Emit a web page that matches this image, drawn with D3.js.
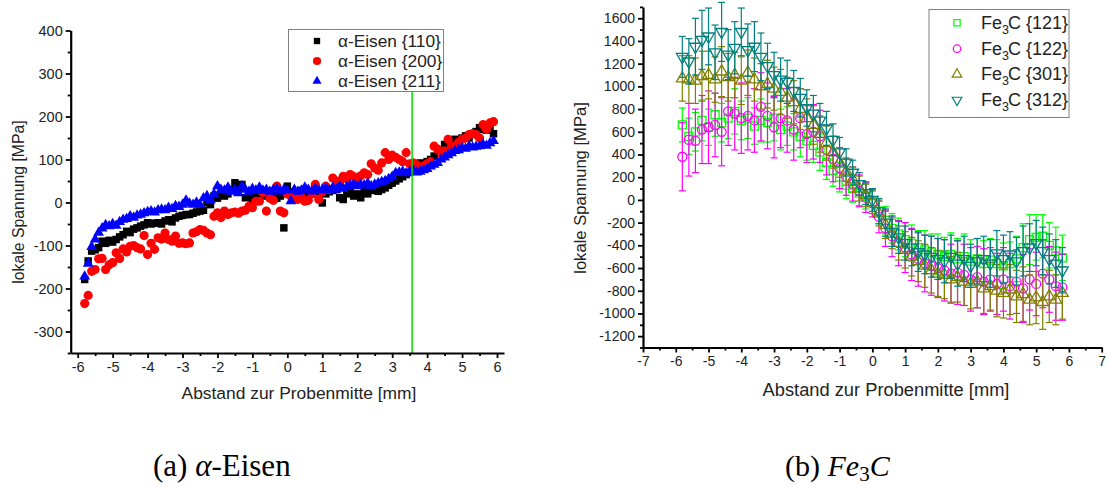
<!DOCTYPE html>
<html><head><meta charset="utf-8">
<script src="https://cdn.jsdelivr.net/npm/d3@7"></script>
<style>body{margin:0;background:#fff}svg{display:block}</style>
</head><body>
<svg id="c" width="1109" height="487"></svg>
<script>
// ---------- Data: left panel (alpha-Eisen) ----------
const xA = [-5.8,-5.7,-5.6,-5.5,-5.4,-5.3,-5.2,-5.1,-5.0,-4.9,
-4.8,-4.7,-4.6,-4.5,-4.4,-4.3,-4.2,-4.1,-4.0,-3.9,
-3.8,-3.7,-3.6,-3.5,-3.4,-3.3,-3.2,-3.1,-3.0,-2.9,
-2.8,-2.7,-2.6,-2.5,-2.4,-2.3,-2.2,-2.1,-2.0,-1.9,
-1.8,-1.7,-1.6,-1.5,-1.4,-1.3,-1.2,-1.1,-1.0,-0.9,
-0.8,-0.7,-0.6,-0.5,-0.4,-0.3,-0.2,-0.1,0.0,0.1,
0.2,0.3,0.4,0.5,0.6,0.7,0.8,0.9,1.0,1.1,
1.2,1.3,1.4,1.5,1.6,1.7,1.8,1.9,2.0,2.1,
2.2,2.3,2.4,2.5,2.6,2.7,2.8,2.9,3.0,3.1,
3.2,3.3,3.4,3.5,3.6,3.7,3.8,3.9,4.0,4.1,
4.2,4.3,4.4,4.5,4.6,4.7,4.8,4.9,5.0,5.1,
5.2,5.3,5.4,5.5,5.6,5.7,5.8,5.9];
const eisen110 = [-179,-136,-113,-110,-105,-90,-95,-88,-92,-86,
-80,-75,-67,-70,-62,-59,-55,-52,-47,-50,
-48,-47,-50,-43,-40,-45,-36,-32,-30,-28,
-28,-25,-22,-20,-18,0,-5,15,10,18,
15,20,30,46,35,42,11,20,7,15,
20,15,25,18,22,10,15,-59,38,20,
25,20,28,22,25,20,30,25,-1,20,
25,28,30,11,7,20,25,15,20,11,
25,20,30,28,26,30,34,40,45,50,
55,60,65,70,84,80,92,88,95,100,
108,115,120,135,130,140,147,145,150,155,
150,160,165,174,170,168,177,160];
const eisen200 = [-235,-216,-160,-156,-131,-130,-156,-145,-140,-117,
-130,-108,-115,-102,-100,-105,-108,-77,-121,-95,
-109,-82,-85,-71,-86,-90,-78,-95,-94,-96,
-94,-71,-68,-63,-65,-71,-75,-32,-24,-35,
-20,-28,-24,-22,-25,-20,-18,-9,-12,3,
3,23,-20,10,5,38,-20,-24,20,15,
10,7,12,3,5,20,42,7,25,38,
30,57,40,50,61,55,65,60,53,62,
69,65,90,80,75,92,116,100,110,105,
100,95,116,90,92,88,81,85,90,95,
131,124,115,120,147,132,130,140,147,150,
158,160,158,150,181,170,185,188];
const eisen211 = [-172,-142,-103,-86,-70,-60,-52,-55,-50,-54,
-45,-40,-38,-32,-35,-30,-28,-25,-22,-20,
-23,-18,-16,-18,-12,-15,-8,-10,-5,5,
-2,-5,0,-5,10,15,5,20,38,30,
28,35,25,30,22,38,30,25,32,28,
35,28,30,25,30,32,26,30,28,3,
30,25,28,35,30,26,32,28,30,33,
28,35,30,38,32,36,40,42,38,42,
40,45,38,42,45,48,50,55,60,69,
70,72,68,72,75,70,72,75,78,84,
88,92,100,105,110,115,120,122,127,125,
131,128,130,131,135,132,138,143];
const markerLineA = 3.57;
const seriesNamesA = ["α-Eisen {110}","α-Eisen {200}","α-Eisen {211}"];
const yTicksA = [-300,-200,-100,0,100,200,300,400];
const yMinorA = [-350,-250,-150,-50,50,150,250,350];
const xTicksA = [-6,-5,-4,-3,-2,-1,0,1,2,3,4,5,6];
const xMinorA = [-5.5,-4.5,-3.5,-2.5,-1.5,-0.5,0.5,1.5,2.5,3.5,4.5,5.5];

// ---------- Data: right panel (Fe3C) ----------
const xB = [-5.8,-5.6,-5.4,-5.2,-5.0,-4.8,-4.6,-4.4,-4.2,-4.0,
-3.8,-3.6,-3.4,-3.2,-3.0,-2.8,-2.6,-2.4,-2.2,-2.0,
-1.8,-1.6,-1.4,-1.2,-1.0,-0.8,-0.6,-0.4,-0.2,0.0,
0.2,0.4,0.6,0.8,1.0,1.2,1.4,1.6,1.8,2.0,
2.2,2.4,2.6,2.8,3.0,3.2,3.4,3.6,3.8,4.0,
4.2,4.4,4.6,4.8,5.0,5.2,5.4,5.6,5.8];
const fe121 = [660,560,600,700,640,750,680,720,780,700,
720,650,700,680,720,620,650,600,560,520,
480,420,330,260,200,130,100,60,30,-20,
-100,-180,-250,-300,-350,-380,-420,-440,-460,-480,
-500,-480,-520,-500,-540,-520,-560,-530,-560,-580,
-560,-520,-420,-350,-330,-320,-400,-450,-510];
const fe122 = [380,530,520,620,640,660,600,780,760,720,
740,700,820,740,640,720,700,620,720,580,
600,560,440,360,280,200,140,80,20,-30,
-150,-250,-320,-380,-420,-480,-520,-560,-580,-600,
-620,-650,-640,-660,-700,-680,-720,-700,-740,-700,
-760,-720,-780,-700,-740,-650,-700,-760,-770];
const fe301 = [1070,1060,1050,1090,1100,1060,1130,1080,1100,1050,
1120,1060,1000,1020,980,950,900,860,800,720,
660,580,500,420,330,250,180,100,40,-20,
-120,-220,-300,-380,-440,-500,-540,-580,-620,-650,
-660,-700,-680,-720,-740,-720,-780,-760,-800,-820,
-790,-850,-830,-880,-860,-900,-850,-880,-820];
const fe312 = [1260,1220,1350,1410,1440,1300,1480,1280,1340,1480,
1320,1350,1260,1180,1100,1060,1040,960,900,810,
760,700,630,530,420,330,240,140,60,0,
-100,-200,-280,-330,-380,-420,-460,-480,-500,-520,
-540,-500,-560,-520,-580,-540,-520,-560,-470,-520,
-480,-540,-450,-420,-380,-450,-520,-560,-620];
const err121 = [150,160,170,180,160,190,170,180,200,170,
180,160,190,170,200,180,170,160,180,170,
150,160,150,140,130,120,120,110,110,100,
110,120,130,140,150,160,150,170,160,180,
170,190,180,200,190,180,200,190,210,200,
190,200,210,220,200,190,200,210,200];
const err122 = [300,320,280,300,320,280,300,300,320,310,
300,280,300,290,270,260,280,270,260,250,
240,230,220,200,180,160,150,140,130,120,
140,160,180,200,220,230,240,250,260,260,
270,260,280,270,280,270,290,280,270,280,
290,280,300,270,280,300,290,300,290];
const err301 = [200,210,200,220,210,200,220,210,200,210,
200,190,200,210,190,200,180,190,180,170,
170,160,150,140,130,120,110,110,100,100,
110,120,130,150,160,170,180,190,200,200,
210,200,220,210,220,230,220,210,230,220,
220,230,240,220,230,240,230,220,230];
const err312 = [180,200,250,260,250,240,260,220,230,210,
230,220,210,200,200,190,190,180,170,160,
160,150,150,140,130,120,110,100,100,100,
110,120,130,140,150,160,170,170,180,180,
190,190,200,200,190,200,200,210,200,210,
200,210,220,210,200,210,220,210,200];
const seriesNamesB = ["{121}","{122}","{301}","{312}"];
const yTicksB = [-1200,-1000,-800,-600,-400,-200,0,200,400,600,800,1000,1200,1400,1600];
const yMinorB = [-1300,-1100,-900,-700,-500,-300,-100,100,300,500,700,900,1100,1300,1500,1700];
const xTicksB = [-7,-6,-5,-4,-3,-2,-1,0,1,2,3,4,5,6,7];
const xMinorB = [-6.5,-5.5,-4.5,-3.5,-2.5,-1.5,-0.5,0.5,1.5,2.5,3.5,4.5,5.5,6.5];

const xTitle = "Abstand zur Probenmitte [mm]";
const yTitle = "lokale Spannung [MPa]";

// ---------- Drawing ----------
const SANS = '"Liberation Sans", Arial, sans-serif';
const SERIF = '"Liberation Serif", "Times New Roman", serif';
const svg = d3.select('#c');
svg.append('rect').attr('width',1109).attr('height',487).attr('fill','#fff');

function drawAxes(g, x, y, xt, xm, yt, ym, fs) {
  const fmt = d => String(d);
  const gx = g.append('g').attr('transform',`translate(0,${y.range()[0]})`)
    .call(d3.axisBottom(x).tickValues(xt).tickFormat(fmt).tickSizeInner(5).tickSizeOuter(0).tickPadding(4));
  const gxm = g.append('g').attr('transform',`translate(0,${y.range()[0]})`)
    .call(d3.axisBottom(x).tickValues(xm).tickFormat('').tickSizeInner(3).tickSizeOuter(0));
  const gy = g.append('g').attr('transform',`translate(${x.range()[0]},0)`)
    .call(d3.axisLeft(y).tickValues(yt).tickFormat(fmt).tickSizeInner(5).tickSizeOuter(0).tickPadding(3));
  const gym = g.append('g').attr('transform',`translate(${x.range()[0]},0)`)
    .call(d3.axisLeft(y).tickValues(ym).tickFormat('').tickSizeInner(3).tickSizeOuter(0));
  [gx,gxm,gy,gym].forEach(a => {
    a.select('.domain').attr('stroke','#000').attr('stroke-width',2.2);
    a.selectAll('.tick line').attr('stroke','#000').attr('stroke-width',1.8);
    a.selectAll('.tick text').attr('fill','#222').style('font-family',SANS).style('font-size',fs+'px');
  });
  gxm.select('.domain').remove(); gym.select('.domain').remove();
}

// ===== Left panel =====
const gA = svg.append('g');
const sxA = d3.scaleLinear().domain([-6.2,6.2]).range([70.7,504]);
const syA = d3.scaleLinear().domain([-350,400]).range([353,30.5]);

const symSq = d3.symbol().type(d3.symbolSquare).size(56)();
const symCi = d3.symbol().type(d3.symbolCircle).size(66)();
const symTr = d3.symbol().type(d3.symbolTriangle).size(50)();

const seriesA = [
  {vals: eisen110, color:'#000000', path: symSq},
  {vals: eisen200, color:'#ff0000', path: symCi},
  {vals: eisen211, color:'#0000ff', path: symTr}
];
seriesA.forEach(s => {
  gA.append('g').selectAll('path').data(s.vals).join('path')
    .attr('d', s.path)
    .attr('transform', (d,i) => `translate(${sxA(xA[i])},${syA(d)})`)
    .attr('fill', s.color);
});
// green vertical line
gA.append('line').attr('x1',sxA(markerLineA)).attr('x2',sxA(markerLineA))
  .attr('y1',syA(400)).attr('y2',syA(-350)).attr('stroke','#00e000').attr('stroke-width',1.5);
drawAxes(gA, sxA, syA, xTicksA, xMinorA, yTicksA, yMinorA, 14.5);
gA.append('text').attr('x',299).attr('y',399).attr('text-anchor','middle')
  .style('font-family',SANS).style('font-size','17.4px').attr('fill','#222').text(xTitle);
gA.append('text').attr('transform','translate(24,202) rotate(-90)').attr('text-anchor','middle')
  .style('font-family',SANS).style('font-size','15.8px').attr('fill','#222').text(yTitle);
// legend
const legA = gA.append('g');
legA.append('rect').attr('x',288.5).attr('y',29.5).attr('width',155).attr('height',62)
  .attr('fill','#fff').attr('stroke','#808080').attr('stroke-width',1);
const legSymA = [d3.symbol().type(d3.symbolSquare).size(40)(), d3.symbol().type(d3.symbolCircle).size(52)(), d3.symbol().type(d3.symbolTriangle).size(36)()];
seriesA.forEach((s,i) => {
  const yy = 41 + i*20;
  legA.append('path').attr('d', legSymA[i]).attr('transform',`translate(317,${yy})`).attr('fill',s.color);
  legA.append('text').attr('x',338).attr('y',yy+6).style('font-family',SANS).style('font-size','17.3px')
    .attr('fill','#222').text(seriesNamesA[i]);
});

// ===== Right panel =====
const gB = svg.append('g');
const sxB = d3.scaleLinear().domain([-7,7]).range([643,1101.7]);
const syB = d3.scaleLinear().domain([-1300,1700]).range([347.5,6.9]);
const hSq = d3.symbol().type(d3.symbolSquare).size(64)();
const hCi = d3.symbol().type(d3.symbolCircle).size(64)();
const hTr = d3.symbol().type(d3.symbolTriangle).size(60)();
const lSq = d3.symbol().type(d3.symbolSquare).size(40)();
const lCi = d3.symbol().type(d3.symbolCircle).size(44)();
const lTr = d3.symbol().type(d3.symbolTriangle).size(40)();
const seriesB = [
  {vals: fe121, err: err121, color:'#00ff00', path:hSq, lp:lSq, rot:0},
  {vals: fe122, err: err122, color:'#ff00ff', path:hCi, lp:lCi, rot:0},
  {vals: fe301, err: err301, color:'#808000', path:hTr, lp:lTr, rot:0},
  {vals: fe312, err: err312, color:'#008080', path:hTr, lp:lTr, rot:180}
];
seriesB.forEach(s => {
  const g = gB.append('g');
  const eb = g.append('g').attr('stroke', s.color).attr('stroke-width',1.2).attr('fill','none');
  s.vals.forEach((v,i) => {
    const px = sxB(xB[i]);
    const y1 = syB(v + s.err[i]), y2 = syB(v - s.err[i]);
    eb.append('line').attr('x1',px).attr('x2',px).attr('y1',y1).attr('y2',y2);
    eb.append('line').attr('x1',px-3.5).attr('x2',px+3.5).attr('y1',y1).attr('y2',y1);
    eb.append('line').attr('x1',px-3.5).attr('x2',px+3.5).attr('y1',y2).attr('y2',y2);
  });
  g.append('g').selectAll('path').data(s.vals).join('path')
    .attr('d', s.path)
    .attr('transform',(d,i) => `translate(${sxB(xB[i])},${syB(d)}) rotate(${s.rot})`)
    .attr('fill','none').attr('stroke', s.color).attr('stroke-width',1.3);
});
drawAxes(gB, sxB, syB, xTicksB, xMinorB, yTicksB, yMinorB, 14);
gB.append('text').attr('x',886).attr('y',396).attr('text-anchor','middle')
  .style('font-family',SANS).style('font-size','18.3px').attr('fill','#222').text(xTitle);
gB.append('text').attr('transform','translate(586,188) rotate(-90)').attr('text-anchor','middle')
  .style('font-family',SANS).style('font-size','16.6px').attr('fill','#222').text(yTitle);
const legB = gB.append('g');
legB.append('rect').attr('x',929).attr('y',9.5).attr('width',140).attr('height',108)
  .attr('fill','#fff').attr('stroke','#808080').attr('stroke-width',1);
const legYB = [22.7,48.7,74.3,100];
seriesB.forEach((s,i) => {
  const yy = legYB[i];
  legB.append('path').attr('d', s.lp).attr('transform',`translate(957,${yy}) rotate(${s.rot})`)
    .attr('fill','none').attr('stroke',s.color).attr('stroke-width',1.2);
  const t = legB.append('text').attr('x',981).attr('y',yy+6).style('font-family',SANS).style('font-size','18px').attr('fill','#222');
  t.append('tspan').text('Fe');
  t.append('tspan').attr('dy',5).style('font-size','12.5px').text('3');
  t.append('tspan').attr('dx',-1).attr('dy',-5).text('C ' + seriesNamesB[i]);
});

// ===== Captions =====
const capA = svg.append('text').attr('x',153).attr('y',476).style('font-family',SERIF).style('font-size','31px').attr('fill','#000');
capA.append('tspan').text('(a) ');
capA.append('tspan').style('font-style','italic').text('α');
capA.append('tspan').text('-Eisen');
const capB = svg.append('text').attr('x',785).attr('y',476).style('font-family',SERIF).style('font-size','30px').attr('fill','#000');
capB.append('tspan').text('(b) ');
capB.append('tspan').style('font-style','italic').text('Fe');
capB.append('tspan').attr('dy',5).style('font-size','21px').text('3');
capB.append('tspan').attr('dy',-5).style('font-style','italic').text('C');
</script>
</body></html>
